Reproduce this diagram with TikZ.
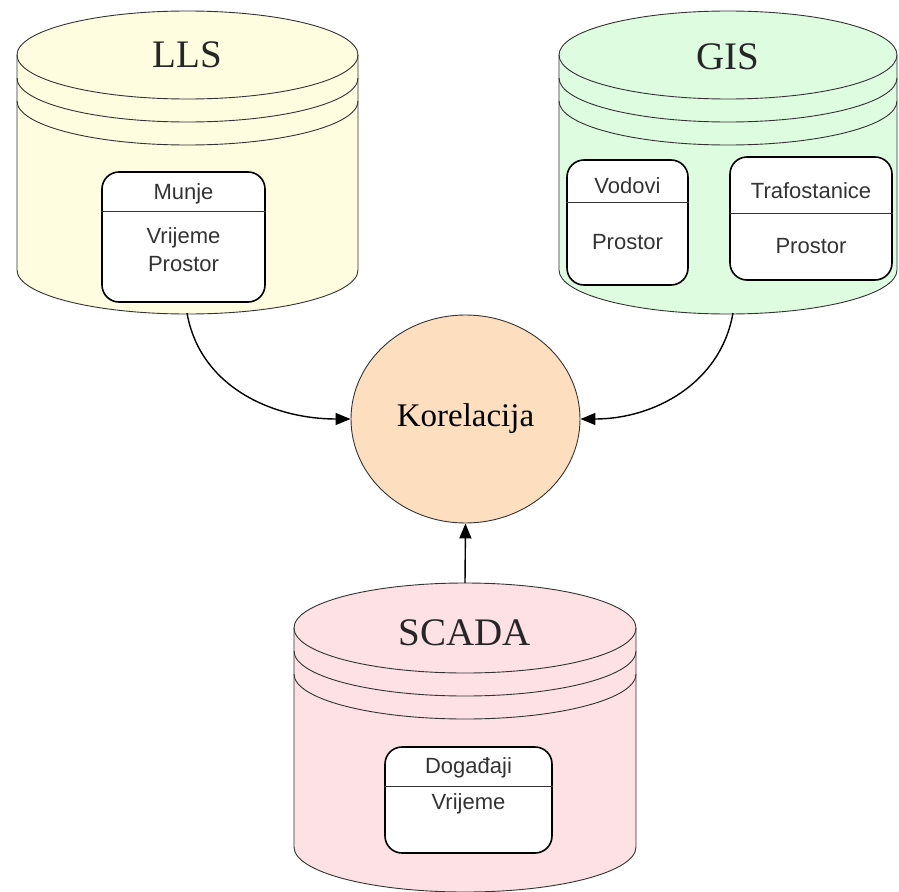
\documentclass[tikz,border=0pt]{standalone}
\usepackage{fontspec}
\setmainfont{Liberation Serif}
\newfontfamily\arialf{Liberation Sans}
\usetikzlibrary{shapes.geometric,arrows.meta}
\definecolor{llsfill}{HTML}{FFFDE0}
\definecolor{gisfill}{HTML}{DEFCE0}
\definecolor{scadafill}{HTML}{FDE1E4}
\definecolor{korfill}{HTML}{FDDFBF}
\definecolor{edge}{HTML}{333333}
\tikzset{
  cylline/.style={draw=edge, line width=0.9pt},
  ibox/.style={draw=black, line width=1.6pt, fill=white, rounded corners=17pt, inner sep=0pt},
  divline/.style={draw=edge, line width=0.9pt},
  title/.style={font=\fontsize{39}{44}\selectfont, inner sep=0pt, text=black!85},
  boxtext/.style={font=\arialf\fontsize{22}{26}\selectfont, inner sep=0pt, text=black!80},
  conn/.style={draw=black, line width=1.4pt, -{Triangle[length=15pt,width=12pt]}},
}
\newcommand{\dbcyl}[6]{%
  % #1 cx, #2 rx, #3 top center y, #4 ry, #5 bottom center y, #6 colour
  \draw[cylline, fill=#6] ({#1-#2},#3) -- ({#1-#2},#5)
     arc[start angle=180, end angle=0, x radius=#2, y radius=#4]
     -- ({#1+#2},#3)
     arc[start angle=0, end angle=-180, x radius=#2, y radius=#4] -- cycle;
  \draw[cylline] ({#1-#2},#3) arc[start angle=180, end angle=0, x radius=#2, y radius=#4];
  \draw[cylline] ({#1-#2},{#3+23}) arc[start angle=180, end angle=0, x radius=#2, y radius=#4];
  \draw[cylline] ({#1-#2},{#3+46}) arc[start angle=180, end angle=0, x radius=#2, y radius=#4];
}
\begin{document}
\begin{tikzpicture}[x=1pt, y=-1pt]
\useasboundingbox (0,0) rectangle (899,891);

% ---------- LLS ----------
\dbcyl{187.5}{170.5}{55}{44}{270}{llsfill}
\node[title] (lls) at (187.5,55) {LLS};
\node[ibox, minimum width=163pt, minimum height=130pt] (munje) at (183.5,237) {};
\draw[divline] (munje.west |- 0,211) -- (munje.east |- 0,211);
\node[boxtext] (munjet) at (183.5,194) {Munje};
\node[boxtext] (munjev) at (183.5,238) {Vrijeme};
\node[boxtext] (munjep) at (183.5,264) {Prostor};
\coordinate (llsout) at (187,313);

% ---------- GIS ----------
\dbcyl{728}{169}{55}{44}{270}{gisfill}
\node[title] (gis) at (728,57) {GIS};
\node[ibox, minimum width=121pt, minimum height=125pt] (vod) at (627.5,222.5) {};
\draw[divline] (vod.west |- 0,202) -- (vod.east |- 0,202);
\node[boxtext] (vodt) at (627.5,186) {Vodovi};
\node[boxtext] (vodp) at (627.5,242) {Prostor};
\node[ibox, minimum width=162pt, minimum height=123pt] (traf) at (811,218.5) {};
\draw[divline] (traf.west |- 0,213) -- (traf.east |- 0,213);
\node[boxtext] (traft) at (811,191) {Trafostanice};
\node[boxtext] (trafp) at (811,246) {Prostor};
\coordinate (gisout) at (733,313);

% ---------- SCADA ----------
\dbcyl{465}{171}{628}{45}{847}{scadafill}
\node[title] (scada) at (465,633) {SCADA};
\node[ibox, minimum width=167pt, minimum height=106pt] (dog) at (468.5,800) {};
\draw[divline] (dog.west |- 0,786) -- (dog.east |- 0,786);
\node[boxtext] (dogt) at (468.5,768) {Događaji};
\node[boxtext] (dogv) at (468.5,804) {Vrijeme};
\coordinate (scadaout) at (465,583);

% ---------- Korelacija ----------
\node[ellipse, draw=edge, line width=0.9pt, fill=korfill,
      minimum width=229pt, minimum height=208pt, inner sep=0pt,
      font=\fontsize{33}{38}\selectfont] (kor) at (465.5,419) {Korelacija};

% ---------- connectors ----------
\draw[conn] (llsout) to[out=-80, in=180] (kor.west);
\draw[conn] (gisout) to[out=-100, in=0] (kor.east);
\draw[conn] (scadaout) -- (kor.south);
\end{tikzpicture}
\end{document}
